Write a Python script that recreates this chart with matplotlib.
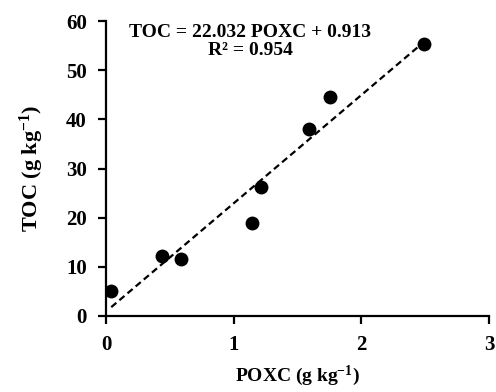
import numpy as np
import matplotlib.pyplot as plt

# values
poxc = [0.04, 0.44, 0.59, 1.14, 1.21, 1.59, 1.75, 2.49]
toc = [5.1, 12.3, 11.6, 18.9, 26.3, 38.0, 44.6, 55.4]
slope = 22.032
intercept = 0.913
r2 = 0.954

plt.rcParams['font.family'] = ['Liberation Serif', 'DejaVu Serif']
plt.rcParams['font.weight'] = 'bold'
plt.rcParams['mathtext.fontset'] = 'custom'
plt.rcParams['mathtext.rm'] = 'Liberation Serif:bold'
plt.rcParams['mathtext.bf'] = 'Liberation Serif:bold'
plt.rcParams['mathtext.default'] = 'bf'

fig = plt.figure(figsize=(4.96, 3.92), dpi=100)
ax = fig.add_axes([0.214, 0.194, 0.772, 0.752])

ax.scatter(poxc, toc, s=100, color='black', zorder=3, linewidths=0)

# linear trendline over the data range
xl = np.array([min(poxc), max(poxc)])
ax.plot(xl, slope * xl + intercept, color='black', linestyle='--', linewidth=1.6, dashes=(3, 1.8))

ax.set_xlim(0, 3)
ax.set_ylim(0, 60)
ax.set_xticks([0, 1, 2, 3])
ax.set_yticks(range(0, 61, 10))
ax.spines['top'].set_visible(False)
ax.spines['right'].set_visible(False)
ax.spines['left'].set_linewidth(1.6)
ax.spines['bottom'].set_linewidth(1.6)
ax.tick_params(axis='both', direction='out', length=6, width=1.6, labelsize=15)
ax.tick_params(axis='x', pad=8)
ax.tick_params(axis='y', pad=8)
for lab in ax.get_xticklabels() + ax.get_yticklabels():
    lab.set_fontweight('bold')

ax.set_xlabel('POXC (g kg$^{-1}$)', fontsize=14, fontweight='bold', labelpad=6)
ax.set_ylabel('TOC (g kg$^{-1}$)', fontsize=16, fontweight='bold', labelpad=14)

ax.text(1.13, 55.8, f'TOC = {slope} POXC + {intercept}\nR² = {r2}', fontsize=14,
        fontweight='bold', ha='center', va='center', linespacing=1.05)

fig.savefig('out.png', dpi=100)
